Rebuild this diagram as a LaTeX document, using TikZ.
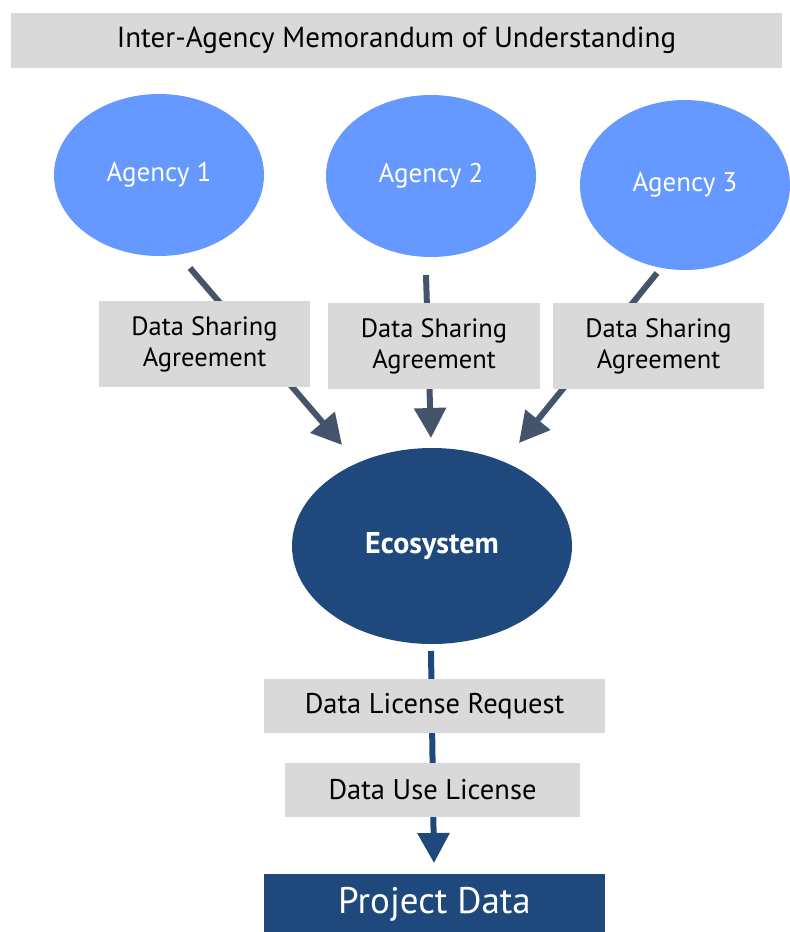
\documentclass[tikz,border=0pt]{standalone}
\usepackage{fontspec}
\setmainfont{PT Sans}
\usetikzlibrary{shapes.geometric,arrows.meta,backgrounds}
\definecolor{lblue}{HTML}{6699FF}
\definecolor{dblue}{HTML}{1F497D}
\definecolor{slate}{HTML}{44546A}
\definecolor{lgray}{HTML}{D9D9D9}
\tikzset{
  agency/.style={ellipse, fill=lblue, minimum width=210pt, minimum height=162pt, inner sep=0pt, text=white, font=\fontsize{27}{31}\selectfont},
  graybox/.style={rectangle, fill=lgray, inner sep=0pt, align=center, font=\fontsize{26.5}{31}\selectfont},
  slatearrow/.style={draw=slate, line width=6pt, -{Triangle[length=30pt,width=31pt]}},
  bluearrow/.style={draw=dblue, line width=6pt, -{Triangle[length=30pt,width=31pt]}},
}
\begin{document}
\begin{tikzpicture}[x=1pt,y=-1pt]
\useasboundingbox (0,0) rectangle (790,932);
% banner
\node[graybox, minimum width=771pt, minimum height=55pt, font=\fontsize{29}{33}\selectfont] (mou) at (396.5,40) {Inter-Agency Memorandum of Understanding};
% agencies
\node[agency] (a1) at (159,175) {Agency 1};
\node[agency] (a2) at (431,176) {Agency 2};
\node[agency, minimum height=170pt] (a3) at (685,185) {Agency 3};
% ecosystem
\node[ellipse, fill=dblue, minimum width=280pt, minimum height=196pt, inner sep=0pt, text=white, font=\fontsize{30}{34}\selectfont\bfseries] (eco) at (432,546) {Ecosystem};
% agreements
\node[graybox, minimum width=211pt, minimum height=86pt] (d1) at (204.5,344) {Data Sharing\\Agreement};
\node[graybox, minimum width=212pt, minimum height=86pt] (d2) at (434,346) {Data Sharing\\Agreement};
\node[graybox, minimum width=211pt, minimum height=86pt] (d3) at (658.5,346) {Data Sharing\\Agreement};
% licenses
\node[graybox, minimum width=341pt, minimum height=54pt, font=\fontsize{28.5}{32}\selectfont] (req) at (434.5,706) {Data License Request};
\node[graybox, minimum width=295pt, minimum height=54pt, font=\fontsize{28.5}{32}\selectfont] (use) at (432.5,790) {Data Use License};
% project data
\node[rectangle, fill=dblue, minimum width=341pt, minimum height=60pt, inner sep=0pt, text=white, font=\fontsize{37}{42}\selectfont] (proj) at (434.5,904) {Project Data};
% connectors
\coordinate (s1) at (190,268);
\coordinate (t1) at (342,445);
\coordinate (s2) at (426,275);
\coordinate (t2) at (431,438);
\coordinate (s3) at (657,273);
\coordinate (t3) at (519,443);
\coordinate (s4) at (431,651);
\coordinate (t4) at (434,863);
\begin{pgfonlayer}{background}
\draw[slatearrow] (s1) -- (t1);
\draw[slatearrow] (s2) -- (t2);
\draw[slatearrow] (s3) -- (t3);
\draw[bluearrow] (s4) -- (t4);
\end{pgfonlayer}
\end{tikzpicture}
\end{document}
